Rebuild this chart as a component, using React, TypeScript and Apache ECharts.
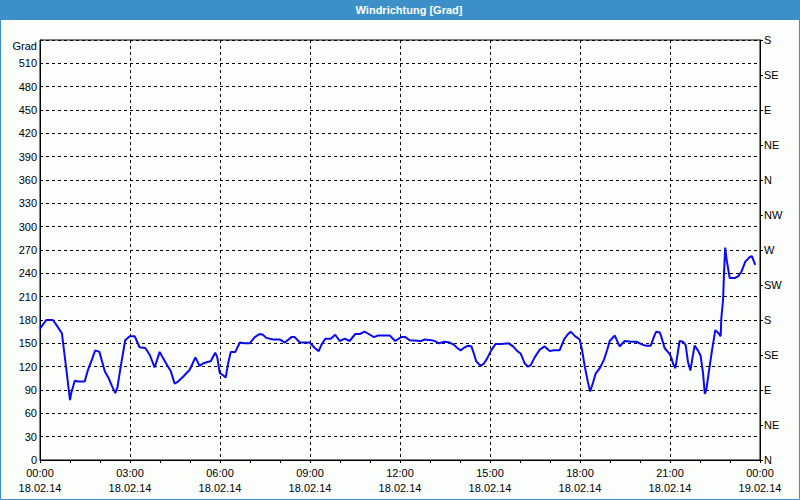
import React, { useEffect, useRef } from "react";
import * as echarts from "echarts";

// time of each reading, hours after 18.02.14 00:00
const hours: number[] = [
  0.0, 0.21, 0.43, 0.54, 0.66, 0.73, 0.8, 0.88, 0.96, 1.0, 1.04, 1.16, 1.27, 1.49, 1.6, 1.73, 1.84, 1.98,
  2.16, 2.29, 2.4, 2.51, 2.58, 2.69, 2.84, 2.99, 3.16, 3.32, 3.51, 3.66, 3.82, 3.99, 4.1, 4.27, 4.36, 4.49,
  4.6, 4.77, 4.99, 5.18, 5.32, 5.43, 5.58, 5.69, 5.84, 5.91, 5.99, 6.1, 6.19, 6.27, 6.36, 6.51, 6.66, 6.8,
  6.99, 7.16, 7.32, 7.43, 7.54, 7.77, 7.99, 8.16, 8.38, 8.49, 8.66, 8.99, 9.16, 9.29, 9.38, 9.51, 9.69, 9.84,
  9.99, 10.16, 10.32, 10.51, 10.66, 10.82, 10.96, 11.13, 11.27, 11.66, 11.84, 12.04, 12.18, 12.32, 12.71,
  12.82, 13.04, 13.16, 13.29, 13.49, 13.66, 13.8, 13.91, 14.02, 14.16, 14.29, 14.38, 14.47, 14.54, 14.69,
  14.8, 14.91, 15.04, 15.18, 15.38, 15.62, 15.77, 15.91, 16.02, 16.16, 16.27, 16.36, 16.49, 16.66, 16.82,
  16.99, 17.13, 17.32, 17.47, 17.58, 17.69, 17.84, 17.99, 18.07, 18.16, 18.27, 18.34, 18.43, 18.52, 18.66,
  18.8, 18.91, 18.99, 19.16, 19.32, 19.49, 19.71, 19.88, 20.1, 20.21, 20.36, 20.47, 20.54, 20.66, 20.73,
  20.82, 20.99, 21.04, 21.1, 21.18, 21.24, 21.32, 21.43, 21.52, 21.6, 21.68, 21.74, 21.82, 21.93, 22.02,
  22.1, 22.16, 22.21, 22.29, 22.4, 22.51, 22.62, 22.69, 22.71, 22.77, 22.8, 22.84, 22.89, 22.99, 23.16,
  23.27, 23.38, 23.51, 23.66, 23.73, 23.84,
];

// wind direction in degrees
const direction: number[] = [
  169, 180, 180, 174, 167, 163, 141, 116, 90, 77, 86, 102, 101, 101, 116, 129, 141, 139,
  114, 105, 95, 86, 93, 120, 154, 159, 159, 145, 144, 135, 119, 139, 131, 120, 114, 98,
  101, 107, 116, 132, 121, 124, 126, 127, 138, 132, 112, 109, 106, 124, 139, 139, 151, 150,
  150, 158, 162, 161, 157, 155, 155, 151, 158, 158, 151, 151, 144, 140, 148, 156, 156, 161,
  153, 156, 153, 162, 162, 165, 162, 158, 160, 160, 153, 158, 158, 154, 153,
  155, 154, 153, 150, 152, 151, 148, 144, 141, 145, 147, 146, 136, 127, 121,
  124, 131, 141, 149, 149, 150, 146, 140, 137, 124, 120, 122, 132, 142, 146,
  140, 141, 141, 155, 161, 165, 159, 155, 141, 120, 99, 88, 99, 111, 118,
  129, 142, 153, 160, 146, 153, 152, 152, 148, 147, 147, 159, 165, 164, 156,
  144, 136, 132, 124, 118, 133, 153, 152, 148, 126, 115, 129, 147, 141, 134,
  112, 85, 90, 112, 141, 167, 163, 159, 182, 206, 240, 273, 257, 234, 234,
  236, 242, 255, 261, 262, 251,
];

const compassValues: number[] = [0, 45, 90, 135, 180, 225, 270, 315, 360, 405, 450, 495, 540];
const compassLabels: string[] = ["N", "NE", "E", "SE", "S", "SW", "W", "NW", "N", "NE", "E", "SE", "S"];

const titleText = "Windrichtung [Grad]";
const unitText = "Grad";

const FONT = "'Liberation Sans', Arial, sans-serif";

export default function App() {
  const ref = useRef<HTMLDivElement>(null);

  useEffect(() => {
    if (!ref.current) return;
    const chart = echarts.init(ref.current, null, { renderer: "svg" });
    const data = hours.map((h, i) => [h, direction[i]]);
    const fmtHour = (v: number) => {
      const h = Math.round(v) % 24;
      const day = v >= 24 ? "19.02.14" : "18.02.14";
      return (h < 10 ? "0" + h : "" + h) + ":00\n" + day;
    };
    chart.setOption({
      animation: false,
      backgroundColor: "#fcfefc",
      textStyle: { fontFamily: FONT },
      grid: {
        left: 40,
        right: 40,
        top: 40,
        bottom: 40,
        show: true,
        borderColor: "#000",
        borderWidth: 1,
        backgroundColor: "transparent",
      },
      graphic: [
        {
          type: "rect",
          shape: { x: 0, y: 0, width: 800, height: 20 },
          style: { fill: "#3d8fc7" },
          silent: true,
        },
        {
          type: "rect",
          shape: { x: 0.5, y: 0.5, width: 799, height: 499 },
          style: { fill: "none", stroke: "#3d8fc7", lineWidth: 1 },
          silent: true,
        },
        {
          type: "text",
          x: 409,
          y: 10,
          style: {
            text: titleText,
            fill: "#ffffff",
            font: "bold 11px " + FONT,
            textAlign: "center",
            textVerticalAlign: "middle",
          },
          silent: true,
        },
        {
          type: "text",
          x: 37,
          y: 46,
          style: {
            text: unitText,
            fill: "#000",
            font: "11px " + FONT,
            textAlign: "right",
            textVerticalAlign: "middle",
          },
          silent: true,
        },
      ],
      xAxis: {
        type: "value",
        min: 0,
        max: 24,
        interval: 3,
        axisLine: { show: true, onZero: false, lineStyle: { color: "#000", width: 1 } },
        axisTick: { show: true, length: 3, lineStyle: { color: "#000" } },
        minorTick: { show: true, splitNumber: 3, length: 3, lineStyle: { color: "#000" } },
        splitLine: { show: true, lineStyle: { color: "#000", type: [3, 3], width: 1 } },
        axisLabel: {
          formatter: fmtHour,
          color: "#000",
          fontSize: 11,
          fontFamily: FONT,
          lineHeight: 15,
          margin: 5,
          showMinLabel: true,
          showMaxLabel: true,
          hideOverlap: false,
        },
      },
      yAxis: [
        {
          type: "value",
          min: 0,
          max: 540,
          interval: 30,
          position: "left",
          axisLine: { show: true, lineStyle: { color: "#000", width: 1 } },
          axisTick: { show: false },
          splitLine: { show: true, lineStyle: { color: "#000", type: [3, 3], width: 1 } },
          axisLabel: {
            color: "#000",
            fontSize: 11,
            fontFamily: FONT,
            margin: 3,
            formatter: (v: number) => (v >= 540 ? "" : String(v)),
          },
        },
        {
          type: "value",
          min: 0,
          max: 540,
          interval: 45,
          position: "right",
          axisLine: { show: true, lineStyle: { color: "#000", width: 1 } },
          axisTick: { show: true, length: 3, lineStyle: { color: "#000" } },
          splitLine: { show: false },
          axisLabel: {
            color: "#000",
            fontSize: 11,
            fontFamily: FONT,
            margin: 4,
            formatter: (v: number) => {
              const i = compassValues.indexOf(Math.round(v));
              return i >= 0 ? compassLabels[i] : "";
            },
          },
        },
      ],
      series: [
        {
          type: "line",
          yAxisIndex: 0,
          data,
          showSymbol: false,
          symbol: "none",
          lineStyle: { color: "#0a0af0", width: 2 },
          itemStyle: { color: "#0a0af0" },
          z: 5,
        },
      ],
    });
    return () => chart.dispose();
  }, []);

  return (
    <div
      ref={ref}
      style={{ position: "absolute", left: 0, top: 0, width: 800, height: 500 }}
    />
  );
}
